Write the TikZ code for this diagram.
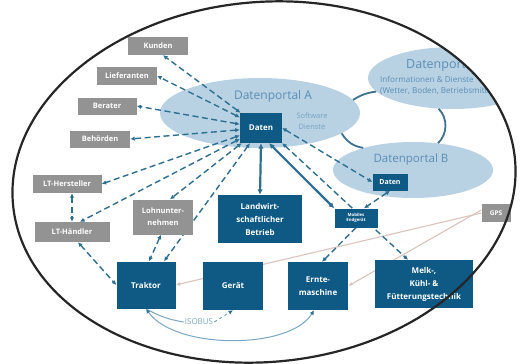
\documentclass[tikz,border=0pt]{standalone}
\usepackage{fontspec}
\setmainfont{Open Sans}
\usetikzlibrary{arrows.meta,calc,shapes.geometric}
\definecolor{dblue}{HTML}{0E5A85}
\definecolor{gboxc}{HTML}{939393}
\definecolor{lblue}{HTML}{B9D2E3}
\definecolor{ptext}{HTML}{5A8DB6}
\definecolor{stext}{HTML}{76A2C4}
\definecolor{dline}{HTML}{2D6F91}
\definecolor{gpsline}{HTML}{DCC3BC}
\definecolor{portline}{HTML}{3E7190}
\definecolor{isoc}{HTML}{7AA7C2}
\pgfdeclarelayer{portals}
\pgfdeclarelayer{lines}
\pgfsetlayers{portals,lines,main}
\begin{document}
\begin{tikzpicture}[x=1pt,y=-1pt,
  dbox/.style={fill=dblue,text=white,font=\bfseries\fontsize{8}{13}\selectfont,align=center,inner sep=0pt},
  gboxs/.style={fill=gboxc,text=white,font=\bfseries\fontsize{7.5}{12}\selectfont,align=center,inner sep=0pt},
  portal/.style={ellipse,fill=lblue,inner sep=0pt},
  dl/.style={draw=dline,line width=1.4pt,dash pattern=on 6pt off 3.5pt,{Latex[length=4.5pt,width=4.5pt]}-{Latex[length=4.5pt,width=4.5pt]}},
  dlone/.style={draw=dline,line width=1.4pt,dash pattern=on 6pt off 3.5pt,-{Latex[length=4.5pt,width=4.5pt]}},
  sl/.style={draw=dline,line width=2.2pt,{Latex[length=5.5pt,width=5.5pt]}-{Latex[length=5.5pt,width=5.5pt]}},
  gl/.style={draw=gpsline,line width=1.1pt,-{Latex[length=4.5pt,width=4pt]}},
  pl/.style={draw=portline,line width=1.8pt}]
\useasboundingbox (0,0) rectangle (522,364);

% portals (clipped by frame)
\begin{pgfonlayer}{portals}
\begin{scope}
\clip[rotate around={5:(264,182)}] (264,182) ellipse [x radius=252pt, y radius=180pt];
\node[portal,minimum width=200pt,minimum height=70pt] (portalA) at (260,113) {};
\node[portal,minimum width=170pt,minimum height=62pt] (portalC) at (453,78) {};
\node[portal,minimum width=160pt,minimum height=56pt] (portalB) at (413,170) {};
\draw[pl] (portalA.8) to[bend left=12] (portalC.190);
\draw[pl] (portalC.245) to[bend left=45] (portalB.47);
\draw[pl] (portalA.-14) to[bend right=25] (portalB.156);
\node[text=ptext,font=\fontsize{12}{14}\selectfont] (tA) at (273,96) {Datenportal A};
\node[text=stext,font=\fontsize{7.5}{11}\selectfont,align=center] (tAs) at (312,121) {Software\\Dienste};
\node[text=ptext,font=\fontsize{12.5}{14}\selectfont,anchor=west,inner sep=0pt] (tC) at (406,65) {Datenportal C};
\node[text=ptext,font=\fontsize{8.1}{9}\selectfont,anchor=west,inner sep=0pt] (tC1) at (380,79) {Informationen \& Dienste};
\node[text=ptext,font=\fontsize{8.1}{9}\selectfont,anchor=west,inner sep=0pt] (tC2) at (380,91) {(Wetter, Boden, Betriebsmittel)};
\node[text=ptext,font=\fontsize{11.5}{14}\selectfont] (tB) at (411,160) {Datenportal B};
\end{scope}
\end{pgfonlayer}

% boxes
\node[gboxs,minimum width=60pt,minimum height=18pt] (kunden) at (158,46) {Kunden};
\node[gboxs,minimum width=60pt,minimum height=18pt] (liefer) at (127,76) {Lieferanten};
\node[gboxs,minimum width=59pt,minimum height=17pt] (berater) at (107,106) {Berater};
\node[gboxs,minimum width=60pt,minimum height=17pt] (behoerden) at (100,139) {Behörden};
\node[gboxs,minimum width=69pt,minimum height=18pt] (lthersteller) at (67,184) {LT-Hersteller};
\node[gboxs,minimum width=75pt,minimum height=20pt] (lthaendler) at (72,232) {LT-Händler};
\node[gboxs,minimum width=60pt,minimum height=35pt] (lohn) at (163,217) {Lohnunter-\\nehmen};
\node[gboxs,minimum width=29pt,minimum height=18pt,font=\bfseries\fontsize{6.5}{8}\selectfont] (gps) at (496,213) {GPS};
\node[dbox,minimum width=42pt,minimum height=30pt] (datenA) at (261,128) {Daten};
\node[dbox,minimum width=35pt,minimum height=17pt,font=\bfseries\fontsize{7}{8}\selectfont] (datenB) at (390,182) {Daten};
\node[dbox,minimum width=43pt,minimum height=19pt,font=\bfseries\fontsize{4.3}{5.5}\selectfont] (mobil) at (356,218) {Mobiles\\Endgerät};
\node[dbox,minimum width=84pt,minimum height=48pt] (landw) at (260,219) {Landwirt-\\schaftlicher\\Betrieb};
\node[dbox,minimum width=59pt,minimum height=47pt] (traktor) at (146,285) {Traktor};
\node[dbox,minimum width=60pt,minimum height=48pt] (geraet) at (233,286) {Gerät};
\node[dbox,minimum width=60pt,minimum height=48pt] (ernte) at (318,286) {Ernte-\\maschine};
\node[dbox,minimum width=98pt,minimum height=48pt] (melk) at (424,284) {Melk-,\\Kühl- \&\\Fütterungstechnik};
\node[text=isoc,font=\fontsize{8}{10}\selectfont,inner sep=1pt] (isobus) at (199,322) {ISOBUS};

% connectors
\begin{pgfonlayer}{lines}
\draw[gl] (gps.west) -- (traktor.east);
\draw[gl] ([yshift=3pt]gps.west) -- (ernte.east);
\draw[dl] (datenA) -- ([xshift=5pt]kunden.south);
\draw[dl] (datenA) -- (liefer.east);
\draw[dl] (datenA) -- (berater.east);
\draw[dl] (datenA) -- (behoerden.east);
\draw[dl] (datenA) -- (lthersteller.east);
\draw[dl] (datenA) -- ([xshift=8pt]lthaendler.north);
\draw[dl] (datenA) -- ([xshift=7pt]lohn.north);
\draw[dl] (datenA) -- ([xshift=18pt]traktor.north);
\draw[dl] ([xshift=5pt]lthersteller.south) -- (lthaendler.north);
\draw[dl] ([xshift=6pt]lthaendler.south) -- (traktor.west);
\draw[dl] ([xshift=-2pt]lohn.south) -- ([xshift=3pt]traktor.north);
\draw[dl] (datenA.east) -- (datenB.west);
\draw[dl] (datenA.south east) -- ([xshift=-16pt]melk.north);
\draw[dl] (datenB.south) -- ([xshift=8pt]mobil.north);
\draw[dlone] (mobil.south) -- ([xshift=4pt]ernte.north);
\draw[sl] (datenA.south) -- (landw.north);
\draw[sl] ([xshift=8pt]datenA.south) -- (mobil.north west);
\draw[draw=isoc,line width=1pt,{Latex[length=4.5pt,width=4.5pt,color=dline]}-{Latex[length=4.5pt,width=4.5pt,color=dline]}] (traktor.south) .. controls (175,350) and (290,350) .. ([xshift=-4pt]ernte.south);
\draw[draw=isoc,line width=1pt] (traktor.south) to[bend right=10] (isobus.west);
\draw[draw=isoc,line width=1pt,dashed,-{Latex[length=4.5pt,width=4.5pt,color=dline]}] (isobus.east) -- (geraet.south);
\end{pgfonlayer}

% frame
\draw[line width=2.2pt,draw=black!85,rotate around={5:(264,182)}] (264,182) ellipse [x radius=252pt, y radius=180pt];
\end{tikzpicture}
\end{document}
